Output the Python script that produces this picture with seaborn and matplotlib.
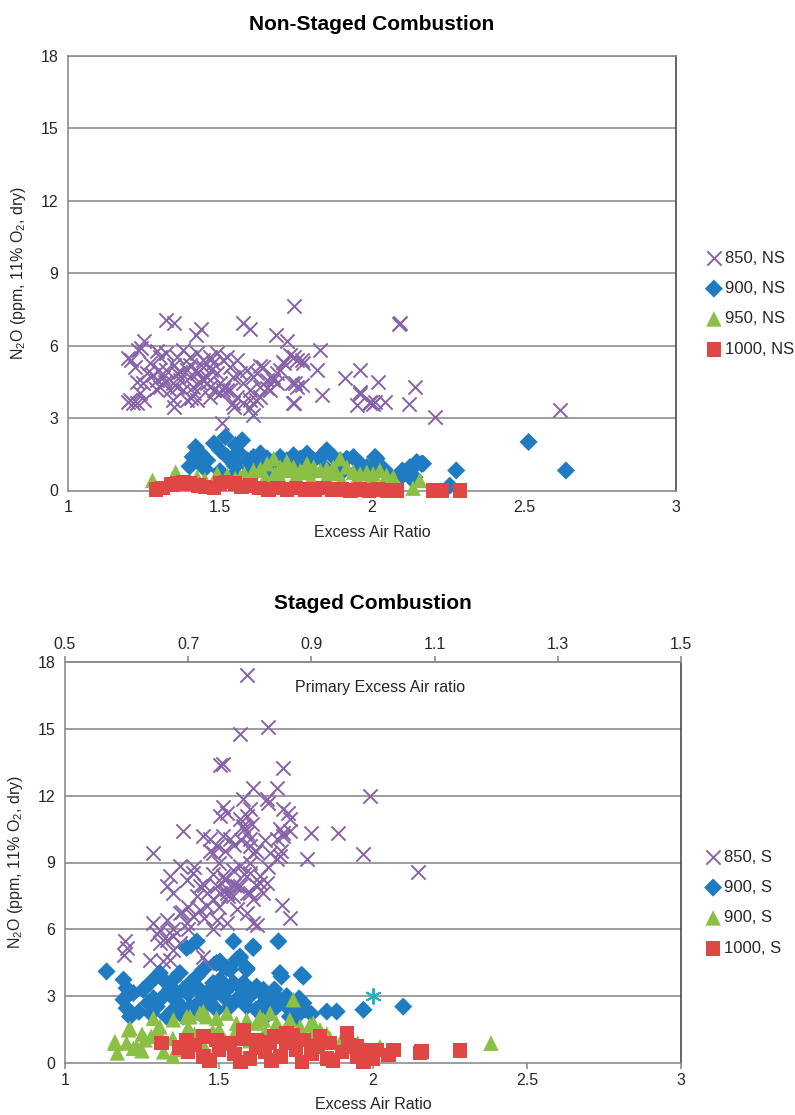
import matplotlib
matplotlib.use("Agg")
import matplotlib.pyplot as plt
import seaborn as sns
import numpy as np

# ---------------- Non-staged combustion (bed temperature series) ----------------
ns850_x = [2.62, 1.742, 2.09, 1.321, 1.348, 1.576, 1.6, 1.685, 1.72, 1.436, 1.42, 1.83, 1.25, 1.24,
           1.207, 1.294, 1.742, 1.77, 1.818, 1.71, 1.91, 1.96, 1.835, 1.742, 1.748, 1.77, 1.95, 1.993,
           2.01, 1.96, 1.196, 1.228, 1.25, 1.348, 1.507, 1.61, 1.6, 1.545, 1.556, 1.633, 1.655, 1.675,
           1.633, 1.622, 1.688, 1.512, 1.524, 1.403, 1.413, 1.458, 1.479, 2.02, 2.142, 1.96, 1.993,
           2.004, 2.042, 2.122, 2.207, 2.092,
           1.198, 1.220, 1.204, 1.215, 1.237, 1.248, 1.259, 1.270, 1.226, 1.231, 1.281, 1.292, 1.302,
           1.313, 1.324, 1.335, 1.346, 1.357, 1.368, 1.379, 1.390, 1.401, 1.412, 1.423, 1.434, 1.445,
           1.456, 1.467, 1.478, 1.489, 1.500, 1.511, 1.522, 1.533, 1.544, 1.555, 1.566, 1.577, 1.588,
           1.598, 1.609, 1.620, 1.631, 1.642, 1.653, 1.664, 1.675, 1.686, 1.697, 1.708, 1.730, 1.752,
           1.774, 1.736, 1.752, 1.741, 1.346, 1.390, 1.423, 1.467, 1.500, 1.533, 1.544, 1.577, 1.598,
           1.357, 1.379, 1.401, 1.423, 1.445, 1.467, 1.489, 1.511, 1.302, 1.324, 1.30, 1.32, 1.35,
           1.37, 1.40, 1.42, 1.44, 1.47, 1.29, 1.36]
ns850_y = [3.35, 7.64, 6.9, 7.08, 6.94, 6.94, 6.67, 6.46, 6.18, 6.67, 6.46, 5.83, 6.18, 5.9,
           5.42, 5.76, 5.54, 5.42, 5.0, 5.28, 4.67, 5.0, 3.96, 3.61, 4.46, 4.38, 3.54, 3.61,
           3.67, 4.1, 3.68, 3.61, 3.75, 3.47, 2.78, 3.13, 3.42, 3.47, 3.89, 3.89, 4.25, 4.58,
           5.14, 4.88, 4.88, 4.3, 4.17, 3.83, 4.04, 4.46, 4.17, 4.5, 4.3, 4.0, 3.68,
           3.6, 3.68, 3.6, 3.06, 6.92,
           5.47, 5.13, 3.75, 3.61, 4.02, 4.44, 4.85, 5.27, 4.51, 5.82, 4.78, 4.58, 4.30,
           4.71, 4.99, 4.16, 4.44, 4.85, 4.58, 4.16, 4.99, 4.71, 4.30, 4.85, 4.44, 5.13,
           4.71, 4.30, 5.27, 4.85, 4.44, 4.16, 5.54, 5.13, 4.71, 5.41, 4.85, 4.44, 4.99,
           4.16, 4.71, 3.75, 4.30, 5.13, 4.58, 4.16, 4.71, 4.44, 4.99, 5.34, 5.61, 5.41,
           5.27, 4.44, 4.30, 3.61, 3.75, 3.75, 3.75, 3.89, 4.02, 4.16, 3.61, 3.61, 3.75,
           5.54, 5.82, 5.54, 5.68, 5.41, 5.54, 5.68, 5.41, 5.54, 5.68, 5.0, 4.5, 5.2,
           4.9, 5.2, 5.0, 4.6, 5.0, 4.2, 4.3]

ns900_x = [1.518, 1.573, 1.551, 1.48, 1.50, 1.42, 1.41, 1.436, 1.458, 1.524, 1.545, 1.56, 1.59,
           1.61, 1.633, 1.655, 1.675, 1.698, 1.72, 1.742, 1.764, 1.786, 1.808, 1.83, 1.851, 1.873,
           1.895, 1.917, 1.939, 1.961, 1.983, 2.01, 2.021, 2.037, 2.10, 2.125, 2.147, 2.168, 2.135,
           2.515, 2.638, 2.277, 2.256, 2.163, 2.125, 2.10, 2.14, 2.135, 2.015, 2.037, 2.004, 1.96,
           1.45, 1.50, 1.55, 1.60, 1.65, 1.70, 1.75, 1.80, 1.85, 1.90, 1.95, 2.0, 2.05, 1.55, 1.62,
           1.40, 1.43]
ns900_y = [2.22, 2.08, 1.88, 1.95, 1.67, 1.8, 1.39, 1.54, 1.25, 1.39, 1.11, 1.6, 1.25,
           1.39, 1.54, 1.33, 1.18, 1.39, 1.25, 1.46, 1.32, 1.53, 1.25, 1.39, 1.67, 1.39,
           1.25, 1.32, 1.39, 1.11, 0.97, 1.39, 1.11, 0.83, 0.83, 0.97, 1.18, 1.11, 0.55,
           2.01, 0.83, 0.83, 0.2, 1.11, 0.83, 0.62, 0.55, 0.42, 1.32, 0.9, 0.83, 1.11,
           0.9, 0.8, 0.7, 0.9, 0.75, 0.85, 0.8, 0.7, 0.9, 0.75, 0.8, 0.65, 0.75, 1.0, 1.1,
           1.0, 1.2]

ns950_x = [1.278, 1.354, 1.425, 1.491, 1.524, 1.567, 1.61, 1.633, 1.655, 1.677, 1.698, 1.72,
           1.742, 1.764, 1.786, 1.808, 1.83, 1.851, 1.873, 1.895, 1.917, 1.939, 1.961, 1.983,
           2.004, 2.026, 2.048, 2.07, 2.157, 2.135, 1.40, 1.45, 1.50, 1.55, 1.60, 1.65, 1.70,
           1.75, 1.80, 1.85, 1.90, 1.95, 2.0, 2.05, 1.58, 1.68, 1.78, 1.88, 1.72]
ns950_y = [0.42, 0.76, 0.55, 0.69, 0.63, 0.55, 0.83, 0.9, 1.11, 1.32, 0.97, 0.83,
           0.97, 0.83, 1.11, 0.97, 0.83, 0.9, 0.97, 1.32, 0.97, 0.76, 0.69, 0.76,
           0.69, 0.83, 0.63, 0.55, 0.42, 0.1, 0.35, 0.45, 0.4, 0.5, 0.45, 0.55, 0.5,
           0.6, 0.5, 0.55, 0.45, 0.5, 0.45, 0.4, 0.7, 0.7, 0.75, 0.7, 1.2]

ns1000_x = [1.29, 1.31, 1.34, 1.36, 1.38, 1.40, 1.43, 1.45, 1.48, 1.50, 1.52, 1.55, 1.57, 1.60,
            1.63, 1.66, 1.69, 1.72, 1.75, 1.78, 1.81, 1.84, 1.87, 1.90, 1.93, 1.96, 1.99, 2.02,
            2.05, 2.08, 2.20, 2.23, 2.29]
ns1000_y = [0.05, 0.1, 0.25, 0.3, 0.35, 0.3, 0.2, 0.15, 0.1, 0.3, 0.35, 0.3, 0.15, 0.2,
            0.1, 0.05, 0.1, 0.05, 0.1, 0.05, 0.05, 0.1, 0.05, 0.05, 0.0, 0.05, 0.0, 0.05,
            0.0, 0.0, 0.0, 0.0, 0.0]

# ---------------- Staged combustion ----------------
s850_x = [1.59, 1.568, 1.66, 1.503, 1.514, 1.709, 1.611, 1.687, 1.655, 1.66, 1.579, 1.514, 1.503,
          1.525, 1.59, 1.6, 1.606, 1.709, 1.725, 1.73, 1.709, 1.73, 1.384, 1.287, 1.785, 1.666,
          1.687, 1.698, 1.99, 1.80, 1.887, 1.969, 2.147, 1.703, 1.73, 1.622,
          1.698, 1.709, 1.687, 1.449, 1.471, 1.493, 1.481, 1.514, 1.536, 1.568, 1.579, 1.59, 1.6,
          1.6, 1.611, 1.373, 1.341, 1.33, 1.352, 1.395, 1.416, 1.438, 1.46, 1.492, 1.514, 1.547,
          1.568, 1.6, 1.633, 1.655, 1.644, 1.6, 1.557, 1.525, 1.195, 1.2, 1.19, 1.276, 1.319,
          1.341, 1.428, 1.449, 1.46, 1.287, 1.308, 1.33, 1.352, 1.373, 1.395, 1.416, 1.438, 1.46,
          1.481, 1.503, 1.525, 1.547, 1.568, 1.59, 1.611, 1.633, 1.373, 1.352, 1.308, 1.59, 1.611,
          1.525, 1.492, 1.40, 1.43, 1.45, 1.48, 1.50, 1.52, 1.55, 1.57, 1.45, 1.50, 1.53, 1.55,
          1.58, 1.60, 1.62, 1.65, 1.47, 1.42, 1.38, 1.35, 1.58, 1.62, 1.66, 1.70, 1.40, 1.33,
          1.30, 1.48, 1.56, 1.52]
s850_y = [17.4, 14.76, 15.06, 13.37, 13.4, 13.26, 12.36, 12.36, 11.84, 11.69, 11.84, 11.48, 11.08,
          11.24, 11.08, 11.39, 10.71, 11.39, 11.24, 10.94, 10.34, 10.41, 10.41, 9.44, 9.14, 9.44,
          9.14, 9.28, 11.98, 10.34, 10.34, 9.36, 8.56, 7.11, 6.51, 6.21,
          10.49, 10.19, 10.04, 10.19, 10.04, 9.74, 9.44, 10.19, 10.04, 10.94, 10.63, 10.34, 10.04,
          9.74, 9.44, 8.83, 8.38, 7.93, 7.63, 8.23, 8.53, 7.93, 7.63, 7.93, 8.38, 8.68,
          8.83, 8.53, 8.38, 8.08, 7.63, 7.63, 7.93, 7.63, 5.46, 5.16, 4.86, 4.63, 4.56,
          4.63, 5.23, 4.78, 4.48, 6.29, 5.98, 6.44, 5.68, 6.74, 6.29, 6.59, 6.89, 7.04,
          7.34, 7.64, 7.79, 7.49, 7.94, 7.64, 7.34, 8.09, 5.39, 5.09, 5.39, 6.74, 6.29,
          6.29, 6.44, 7.0, 7.5, 8.0, 8.5, 9.0, 9.5, 9.8, 10.0, 6.5, 7.0, 7.5, 8.0,
          8.5, 9.0, 9.5, 10.0, 9.5, 8.8, 6.8, 6.0, 10.5, 8.0, 8.8, 9.5, 6.0, 5.5,
          5.8, 6.0, 6.9, 8.2]

s900_x = [1.135, 1.19, 1.2, 1.19, 1.2, 1.211, 1.222, 1.205, 1.254, 1.276, 1.287, 1.298, 1.308,
          1.33, 1.352, 1.373, 1.363, 1.384, 1.406, 1.428, 1.449, 1.438, 1.46, 1.481, 1.503, 1.492,
          1.514, 1.536, 1.557, 1.568, 1.59, 1.611, 1.547, 1.568, 1.6, 1.622, 1.644, 1.666, 1.687,
          1.709, 1.73, 1.752, 1.774, 1.698, 1.768, 1.85, 1.882, 1.969, 2.098, 1.579, 1.525, 1.471,
          1.406, 1.352, 1.33, 1.384, 1.438, 1.492, 1.536, 1.59, 1.644, 1.687, 1.73, 1.752,
          1.428, 1.395, 1.547, 1.611, 1.693, 1.568, 1.59, 1.503, 1.525, 1.703, 1.774, 1.303,
          1.27, 1.32, 1.36, 1.40, 1.44, 1.48, 1.52, 1.56, 1.60, 1.64, 1.68, 1.72, 1.76, 1.34,
          1.42, 1.50, 1.58, 1.62, 1.45, 1.38, 1.24, 1.28, 1.66, 1.78, 1.80]
s900_y = [4.11, 3.74, 3.36, 2.84, 2.46, 2.08, 3.14, 3.06, 3.29, 3.59, 2.91, 2.53, 4.04,
          3.59, 3.74, 4.04, 3.14, 3.29, 3.59, 3.88, 4.19, 3.29, 3.14, 3.59, 3.74, 4.49,
          4.33, 4.19, 4.64, 4.78, 4.19, 5.23, 3.59, 3.43, 3.29, 3.43, 3.29, 2.84, 2.98,
          2.76, 2.39, 2.53, 2.69, 4.04, 3.96, 2.31, 2.31, 2.39, 2.53, 3.14, 2.84, 2.69,
          2.53, 2.39, 2.08, 2.08, 2.24, 2.39, 2.53, 2.53, 2.69, 2.53, 2.08, 2.08,
          5.46, 5.16, 5.46, 5.16, 5.46, 4.71, 4.26, 4.56, 4.26, 3.88, 3.88, 3.96,
          2.7, 3.0, 2.8, 3.1, 2.8, 3.0, 3.2, 2.9, 3.0, 3.1, 3.3, 3.0, 2.9, 3.3,
          3.4, 3.4, 3.6, 2.4, 2.5, 2.5, 2.3, 2.2, 2.2, 2.4, 2.2]

s900b_x = [1.162, 1.211, 1.233, 1.287, 1.308, 1.352, 1.406, 1.449, 1.492, 1.525, 1.557, 1.59,
           1.622, 1.644, 1.666, 1.687, 1.73, 1.741, 1.763, 1.795, 1.828, 1.86, 2.023, 2.383,
           1.162, 1.206, 1.222, 1.26, 1.395, 1.438, 1.46, 1.633, 1.806,
           1.17, 1.2, 1.25, 1.28, 1.32, 1.35, 1.38, 1.42, 1.45, 1.48, 1.52, 1.55, 1.6, 1.65,
           1.7, 1.75, 1.8, 1.85, 1.9, 1.95, 1.3, 1.4, 1.5, 1.35, 1.45, 1.25]
s900b_y = [0.96, 1.56, 0.73, 2.01, 1.63, 1.94, 2.08, 2.31, 2.01, 2.24, 1.79, 1.94,
           1.79, 1.94, 2.24, 1.79, 1.94, 2.84, 1.63, 1.71, 1.49, 1.11, 0.73, 0.89,
           0.89, 1.49, 0.66, 1.04, 2.08, 2.24, 2.08, 2.08, 1.79,
           0.45, 0.9, 0.55, 1.2, 0.5, 1.1, 0.6, 1.3, 0.8, 1.4, 1.0, 1.3, 1.0, 1.4,
           1.2, 1.3, 1.2, 1.3, 1.1, 0.9, 1.5, 1.6, 1.5, 0.3, 0.4, 1.3]

s1000_x = [1.314, 1.395, 1.449, 1.492, 1.536, 1.579, 1.622, 1.666, 1.72, 1.774, 1.828, 1.86,
           1.915, 1.947, 1.98, 2.012, 2.066, 2.158, 2.153, 2.282,
           1.40, 1.45, 1.50, 1.55, 1.60, 1.65, 1.70, 1.75, 1.80, 1.85, 1.90, 1.95, 2.0, 2.05,
           1.42, 1.52, 1.62, 1.72, 1.82, 1.92, 1.47, 1.57, 1.67, 1.77, 1.87, 1.97, 1.37, 1.58,
           1.68, 1.64, 1.74]
s1000_y = [0.89, 1.04, 1.18, 1.04, 0.89, 1.49, 1.04, 0.89, 1.34, 1.04, 1.18, 0.89,
           1.34, 0.73, 0.59, 0.59, 0.59, 0.51, 0.44, 0.55,
           0.5, 0.3, 0.6, 0.4, 0.2, 0.5, 0.3, 0.6, 0.4, 0.2, 0.5, 0.3, 0.2, 0.35,
           0.8, 0.85, 0.7, 0.9, 0.75, 0.8, 0.1, 0.05, 0.1, 0.05, 0.1, 0.05, 0.7, 1.1,
           1.2, 0.95, 1.25]

extra_x = [2.0]
extra_y = [3.0]

top_ticks = [0.5, 0.7, 0.9, 1.1, 1.3, 1.5]

PURPLE = "#8762AA"
BLUE = "#1F7BC2"
GREEN = "#8CBF45"
RED = "#DF4744"
CYAN = "#1DB3C6"
GRID = "#8C8C8C"
TEXT = "#262626"

sns.set_theme(style="white")
plt.rcParams["font.family"] = ["Liberation Sans", "DejaVu Sans"]
plt.rcParams["mathtext.fontset"] = "custom"
plt.rcParams["mathtext.rm"] = "Liberation Sans"

fig = plt.figure(figsize=(7.95, 11.15), dpi=100)
ax1 = fig.add_axes([68 / 795, 1 - 490.5 / 1115, 608 / 795, 434.5 / 1115])
ax2 = fig.add_axes([65 / 795, 1 - 1063 / 1115, 616 / 795, 401 / 1115])


def draw(ax, xs, ys, color, marker, size, lw=0.0):
    sns.scatterplot(x=xs, y=ys, ax=ax, color=color, marker=marker, s=size,
                    linewidth=lw, edgecolor=color if lw else "none",
                    clip_on=False, legend=False, zorder=3)
    return ax.collections[-1]


def style_axes(ax):
    ax.set_xlim(1, 3)
    ax.set_ylim(0, 18)
    ax.set_xticks([1, 1.5, 2, 2.5, 3])
    ax.set_xticklabels(["1", "1.5", "2", "2.5", "3"])
    ax.set_yticks(range(0, 19, 3))
    ax.grid(False)
    for yv in range(3, 19, 3):
        ax.axhline(yv, color=GRID, lw=1.2, zorder=1)
    for side in ("left", "bottom", "top"):
        ax.spines[side].set_color(GRID)
        ax.spines[side].set_linewidth(1.2)
    ax.spines["right"].set_color("#4A4A4A")
    ax.spines["right"].set_linewidth(1.2)
    ax.tick_params(axis="both", direction="out", length=4, width=1.2, color=GRID,
                   labelsize=11.5, labelcolor=TEXT, pad=3)
    ax.set_xlabel("Excess Air Ratio", fontsize=11.5, color=TEXT, labelpad=7)
    ax.set_ylabel(r"N$_\mathregular{2}$O (ppm, 11% O$_\mathregular{2}$, dry)",
                  fontsize=11.5, color=TEXT, labelpad=9)


def add_legend(ax, handles, labels, anchor):
    ax.legend(handles, labels, loc="center left", bbox_to_anchor=anchor, frameon=False,
              fontsize=12, handlelength=0.9, handletextpad=0.2, labelspacing=0.92,
              borderpad=0, borderaxespad=0, scatterpoints=1, labelcolor=TEXT)


# top panel: non-staged
h1 = [
    draw(ax1, ns850_x, ns850_y, PURPLE, "x", 105, 1.4),
    draw(ax1, ns900_x, ns900_y, BLUE, "D", 85),
    draw(ax1, ns950_x, ns950_y, GREEN, "^", 125),
    draw(ax1, ns1000_x, ns1000_y, RED, "s", 110),
]
style_axes(ax1)
ax1.set_title("Non-Staged Combustion", fontsize=15, fontweight="bold", color="black", pad=19)
add_legend(ax1, h1, ["850, NS", "900, NS", "950, NS", "1000, NS"], (1.05, 0.43))

# bottom panel: staged
h2 = [
    draw(ax2, s850_x, s850_y, PURPLE, "x", 105, 1.4),
    draw(ax2, s900_x, s900_y, BLUE, "D", 85),
    draw(ax2, s900b_x, s900b_y, GREEN, "^", 125),
    draw(ax2, s1000_x, s1000_y, RED, "s", 110),
]
draw(ax2, extra_x, extra_y, CYAN, (6, 2, 0), 120, 1.4)
style_axes(ax2)
add_legend(ax2, h2, ["850, S", "900, S", "900, S", "1000, S"], (1.04, 0.40))

ax2t = ax2.twiny()
ax2t.set_xlim(0.5, 1.5)
ax2t.set_xticks(top_ticks)
ax2t.set_xticklabels([f"{t:.1f}" for t in top_ticks])
ax2t.grid(False)
for side in ("left", "right", "bottom"):
    ax2t.spines[side].set_visible(False)
ax2t.spines["top"].set_color(GRID)
ax2t.spines["top"].set_linewidth(1.2)
ax2t.tick_params(axis="x", direction="out", length=4, width=1.2, color=GRID,
                 labelsize=11.5, labelcolor=TEXT, pad=3)
ax2t.set_title("Staged Combustion", fontsize=15, fontweight="bold", color="black", pad=38)
ax2.text(0.511, 0.9375, "Primary Excess Air ratio", transform=ax2.transAxes,
         ha="center", va="center", fontsize=11.5, color=TEXT)

fig.savefig("out.png", dpi=100)
